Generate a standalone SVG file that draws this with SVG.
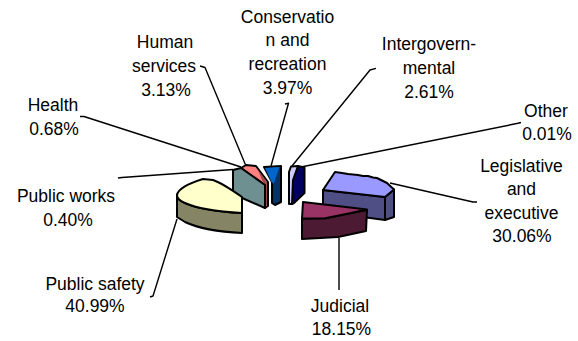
<svg xmlns="http://www.w3.org/2000/svg" width="578" height="341" viewBox="0 0 578 341">
<style>
.lbl{font-family:"Liberation Sans",Arial,sans-serif;font-size:17.5px;fill:#000;text-anchor:middle}
.sl{stroke:#000;stroke-width:2;stroke-linejoin:round}
.ld{fill:none;stroke:#000;stroke-width:1.4;stroke-linejoin:round}
</style>
<rect width="578" height="341" fill="#fff"/>
<g id="connectors">
<polyline class="ld" points="200,66 205,67.5 246,166"/>
<polyline class="ld" points="80,116.5 84,116.5 241,167"/>
<polyline class="ld" points="118,178 122,177.5 233,169.5"/>
<polyline class="ld" points="285,104 288.5,103.3 271,166"/>
<polyline class="ld" points="376,68.3 370,70 292,166"/>
<polyline class="ld" points="521,122.5 518,123.3 301,167"/>
<polyline class="ld" points="390,183 473,202 477,202"/>
<polyline class="ld" points="339,238 339,290"/>
<polyline class="ld" points="150,297 153,296 177,219"/>
</g>
<g id="slice-human-services">
<polygon class="sl" fill="#ff8080" points="241,168 246,165 256,166 268,182 268,206 265,208 265,185"/>
<polygon fill="#a04a4a" points="258,170 267,182 267,205 265,206 265,185 262,180"/>
</g>
<g id="slice-public-works">
<polygon class="sl" fill="#6f9090" points="233,170 241,168 265,185 265,208 233,194"/>
</g>
<g id="slice-conservation">
<polygon class="sl" fill="#003366" points="264,167 281,166 281,202 275,205 272,203 272,182"/>
<polygon fill="#0066cc" points="265,168 279.5,167 273.5,184 271,181"/>
</g>
<g id="slice-intergovernmental">
<polygon class="sl" fill="#000060" points="298,166 304.5,167.5 304.5,193 294,203 292,204 293,180"/>
<polygon class="sl" fill="#ccccff" points="291,166.5 298,166 293,180 292,204 289,204 289,172"/>
</g>
<g id="slice-public-safety">
<path class="sl" fill="#858566" d="M177,195 C177,198 180,201 185,203 C200,210 225,212 242,213 L242,233 C222,232 200,229 185,222 L177,217 Z"/>
<path class="sl" fill="#ffffcc" d="M177,195 C178,189 190,183 203,179 L213,180 C222,183 232,190 242,197 L242,213 C225,212 200,210 185,203 C180,201 177,198 177,195 Z"/>
</g>
<g id="slice-legislative">
<polygon class="sl" fill="#4f4f85" points="323,190 385,197 385,220 355,216 323,210"/>
<polygon class="sl" fill="#4f4f85" points="385,197 394,189.5 394,217 385,220"/>
<path class="sl" fill="#9999ff" d="M323,190 L335,172 L342,173 L348,174 L353,174.5 L358,175 L363,176 L368,176 L373,177.5 L377,178 L382,180.5 L387,183 L394,189.5 L385,197 Z"/>
</g>
<g id="slice-judicial">
<path class="sl" fill="#4d1a33" d="M302,218.5 L325,218.3 L345,214.3 L367,210 L366,231 L352,234 L338,237 L320,238 L302,239 Z"/>
<path class="sl" fill="#993366" d="M303,202 L367,209.5 L345,214.3 L325,218.3 L302,218.5 Z"/>
</g>
<g id="labels">
<text class="lbl" x="287.5" y="22.7">Conservatio</text>
<text class="lbl" x="287.5" y="46.3">n and</text>
<text class="lbl" x="287.5" y="69.7">recreation</text>
<text class="lbl" x="287.5" y="93.5">3.97%</text>
<text class="lbl" x="165" y="48.3">Human</text>
<text class="lbl" x="164" y="72">services</text>
<text class="lbl" x="166" y="96">3.13%</text>
<text class="lbl" x="429" y="50">Intergovern-</text>
<text class="lbl" x="429" y="74">mental</text>
<text class="lbl" x="429" y="97.7">2.61%</text>
<text class="lbl" x="53" y="110.7">Health</text>
<text class="lbl" x="54" y="135">0.68%</text>
<text class="lbl" x="546" y="116.7">Other</text>
<text class="lbl" x="547" y="140">0.01%</text>
<text class="lbl" x="521.5" y="171.5">Legislative</text>
<text class="lbl" x="521.5" y="195">and</text>
<text class="lbl" x="521.5" y="218.5">executive</text>
<text class="lbl" x="522" y="242">30.06%</text>
<text class="lbl" x="66" y="202">Public works</text>
<text class="lbl" x="68" y="226">0.40%</text>
<text class="lbl" x="95" y="289.5">Public safety</text>
<text class="lbl" x="95" y="312">40.99%</text>
<text class="lbl" x="340" y="311.7">Judicial</text>
<text class="lbl" x="341.5" y="335">18.15%</text>
</g>
</svg>
